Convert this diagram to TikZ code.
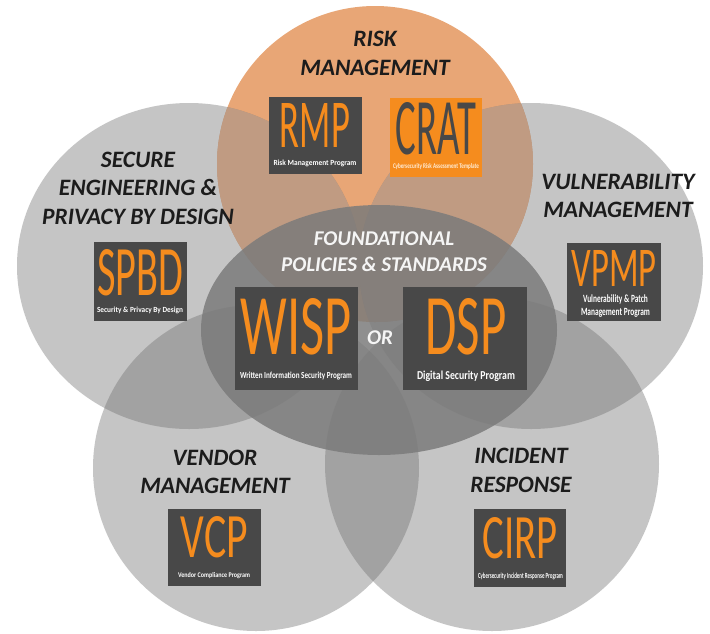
\documentclass[tikz,border=0pt]{standalone}
\usepackage{fontspec}
\setmainfont{Carlito}
\definecolor{riskorange}{RGB}{232,166,118}
\definecolor{riskshade}{RGB}{192,155,130}
\definecolor{petalgrey}{RGB}{110,110,110}
\definecolor{coregrey}{RGB}{122,122,122}
\definecolor{tilegrey}{RGB}{72,72,72}
\definecolor{accent}{RGB}{245,140,30}
\definecolor{ink}{RGB}{28,28,28}
\definecolor{cream}{RGB}{255,236,214}
% acronym / caption squeezed to a given width and height
\newcommand{\fitbox}[3]{\resizebox{#1}{#2}{#3}}
\begin{document}
\begin{tikzpicture}[x=1pt,y=-1pt,
  petal/.style={fill=petalgrey,fill opacity=0.40},
  tile/.style={fill=tilegrey,draw=none,inner sep=0pt},
  acronym/.style={inner sep=0pt,text=accent},
  subline/.style={inner sep=0pt,text=white,font=\bfseries},
  headline/.style={inner sep=0pt,align=center,text=ink,
    font=\fontsize{23.5}{28.5}\selectfont\bfseries\itshape},
  coreline/.style={inner sep=0pt,align=center,text=white!96!black,
    font=\fontsize{21}{26}\selectfont\bfseries\itshape}]
\useasboundingbox (0,0) rectangle (710,633);
\fill[white] (0,0) rectangle (710,633);

% risk management circle
\fill[riskorange] (375,164) circle[radius=158pt];
% four grey petals
\fill[petal] (189,266) ellipse[x radius=172pt,y radius=163pt];
\fill[petal] (531,266) ellipse[x radius=172pt,y radius=163pt];
\fill[petal] (256,468) circle[radius=163pt];
\fill[petal] (492,464) circle[radius=167pt];
% where the upper petals cross the risk circle
\begin{scope}
  \clip (375,164) circle[radius=158pt];
  \fill[riskshade] (189,266) ellipse[x radius=172pt,y radius=163pt];
  \fill[riskshade] (531,266) ellipse[x radius=172pt,y radius=163pt];
\end{scope}
% foundational core
\fill[coregrey,fill opacity=0.84] (379,330) ellipse[x radius=178pt,y radius=125pt];

% headings
\node[headline] (hrisk) at (375,53.5) {RISK\\MANAGEMENT};
\node[headline] (hsec) at (138,188) {SECURE\\ENGINEERING \&\\PRIVACY BY DESIGN};
\node[headline] (hvul) at (618,196) {VULNERABILITY\\MANAGEMENT};
\node[headline] (hven) at (215,472) {VENDOR\\MANAGEMENT};
\node[headline] (hinc) at (521,470.5) {INCIDENT\\RESPONSE};
\node[coreline] (hcore) at (384,252) {FOUNDATIONAL\\POLICIES \& STANDARDS};
\node[coreline] (hor) at (380,338) {OR};

% program tiles
\node[tile,minimum width=93pt,minimum height=77pt] (rmp) at (315.5,135.5) {};
\node[acronym] (rmpA) at (315,125) {\fitbox{70pt}{44pt}{RMP}};
\node[subline] (rmpS) at (315,163) {\fitbox{83pt}{5.5pt}{Risk Management Program}};

\node[tile,fill=accent,minimum width=92pt,minimum height=79pt] (crat) at (436,137.5) {};
\node[acronym,text=tilegrey] (cratA) at (436,129) {\fitbox{80pt}{52pt}{CRAT}};
\node[subline,text=cream] (cratS) at (436,167) {\fitbox{86pt}{5pt}{Cybersecurity Risk Assessment Template}};

\node[tile,minimum width=93pt,minimum height=79pt] (spbd) at (140.5,281.5) {};
\node[acronym] (spbdA) at (140.5,273) {\fitbox{86pt}{46pt}{SPBD}};
\node[subline] (spbdS) at (140,310) {\fitbox{86pt}{5.5pt}{Security \& Privacy By Design}};

\node[tile,minimum width=94pt,minimum height=78pt] (vpmp) at (614,282) {};
\node[acronym] (vpmpA) at (614,268.5) {\fitbox{85pt}{36pt}{VPMP}};
\node[subline] (vpmpS) at (615.5,306.5) {\fitbox{69pt}{16pt}{\begin{tabular}{@{}c@{}}Vulnerability \& Patch\\Management Program\end{tabular}}};

\node[tile,minimum width=123pt,minimum height=103pt] (wisp) at (296.5,338.5) {};
\node[acronym] (wispA) at (296.5,327) {\fitbox{111pt}{56pt}{WISP}};
\node[subline] (wispS) at (296,376) {\fitbox{112pt}{6.5pt}{Written Information Security Program}};

\node[tile,minimum width=124pt,minimum height=103pt] (dsp) at (465,338.5) {};
\node[acronym] (dspA) at (466,327) {\fitbox{81pt}{56pt}{DSP}};
\node[subline] (dspS) at (466,376) {\fitbox{98pt}{8.5pt}{Digital Security Program}};

\node[tile,minimum width=93pt,minimum height=77pt] (vcp) at (214.5,547.5) {};
\node[acronym] (vcpA) at (214.5,537.5) {\fitbox{67pt}{41pt}{VCP}};
\node[subline] (vcpS) at (214,576) {\fitbox{72pt}{5pt}{Vendor Compliance Program}};

\node[tile,minimum width=92pt,minimum height=78pt] (cirp) at (520,548) {};
\node[acronym] (cirpA) at (520,538) {\fitbox{75pt}{41pt}{CIRP}};
\node[subline] (cirpS) at (520.5,576) {\fitbox{85pt}{5.5pt}{Cybersecurity Incident Response Program}};
\end{tikzpicture}
\end{document}
